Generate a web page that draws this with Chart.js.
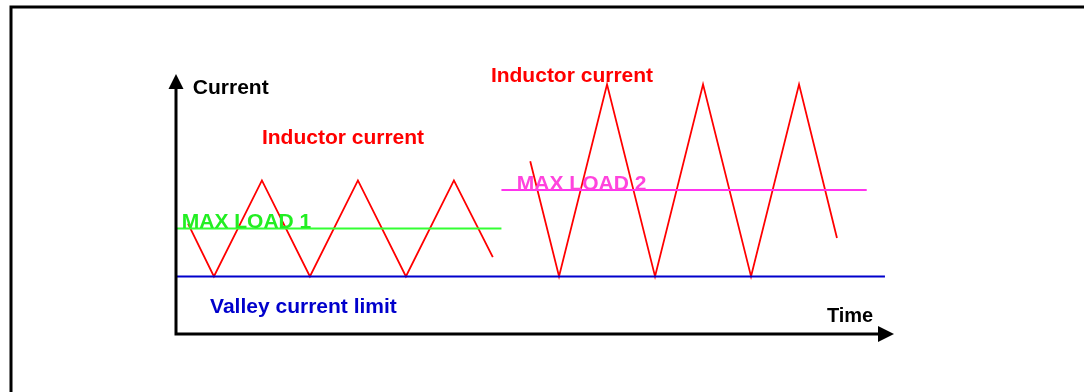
<!DOCTYPE html>
<html>
<head>
<meta charset="utf-8">
<script src="https://cdn.jsdelivr.net/npm/chart.js@4/dist/chart.umd.min.js"></script>
<style>
  html, body { margin: 0; padding: 0; background: #fff; }
  #wrap { width: 1084px; height: 392px; position: relative; }
</style>
</head>
<body>
<div id="wrap"><canvas id="valley"></canvas></div>
<script>
//! Data (time in half periods, current in arbitrary units)

const light_t = [0.25, 0.79, 1.79, 2.79, 3.79, 4.79, 5.79, 6.6];
const light_i = [2.3, 1.2, 3.2, 1.2, 3.2, 1.2, 3.2, 1.6];

const heavy_t = [7.38, 7.98, 8.98, 9.98, 10.98, 11.98, 12.98, 13.77];
const heavy_i = [3.6, 1.2, 5.2, 1.2, 5.2, 1.2, 5.2, 2.0];

const load1_t = [0, 6.78];
const load1_i = [2.2, 2.2];
const load2_t = [6.78, 14.39];
const load2_i = [3.0, 3.0];
const valley_t = [0, 14.77];
const valley_i = [1.2, 1.2];

const axisMax = { t: 15, i: 5.5 };

// text notes: [text, t, i, color, size]
const notes = [
  ["Current", 0.35, 5.01, "#000000", 21],
  ["Inductor current", 1.79, 3.96, "#ff0000", 21],
  ["Inductor current", 6.56, 5.26, "#ff0000", 21],
  ["MAX LOAD 1", 0.12, 2.21, "#22ee22", 21],
  ["MAX LOAD 2", 7.1, 3.01, "#ff44dd", 21],
  ["Valley current limit", 0.71, 0.43, "#0000cc", 21],
  ["Time", 13.56, 0.25, "#000000", 20],
];

const pts = (xs, ys) => xs.map((x, k) => ({ x: x, y: ys[k] }));

const lineSet = (xs, ys, color, width) => ({
  data: pts(xs, ys),
  showLine: true,
  borderColor: color,
  borderWidth: width,
  pointRadius: 0,
  tension: 0,
  fill: false,
});

//! Frame, axes with arrows and the text notes

const drawing = {
  id: "drawing",
  beforeDraw(chart) {
    const ctx = chart.ctx;
    ctx.save();
    ctx.fillStyle = "#fff";
    ctx.fillRect(0, 0, chart.width, chart.height);
    ctx.strokeStyle = "#000";
    ctx.lineWidth = 3;
    ctx.strokeRect(11, 7, chart.width + 20, chart.height + 20);
    ctx.restore();
  },
  afterDatasetsDraw(chart) {
    const ctx = chart.ctx;
    const xs = chart.scales.x;
    const ys = chart.scales.y;
    const x0 = xs.getPixelForValue(0);
    const y0 = ys.getPixelForValue(0);
    const xEnd = xs.getPixelForValue(axisMax.t) - 2;
    const yEnd = ys.getPixelForValue(axisMax.i) + 4;

    ctx.save();
    ctx.strokeStyle = "#000";
    ctx.fillStyle = "#000";
    ctx.lineWidth = 3;
    ctx.beginPath();
    ctx.moveTo(x0, y0 + 1.5);
    ctx.lineTo(x0, yEnd + 14);
    ctx.moveTo(x0 - 1.5, y0);
    ctx.lineTo(xEnd - 15, y0);
    ctx.stroke();

    ctx.beginPath();
    ctx.moveTo(x0, yEnd);
    ctx.lineTo(x0 - 7.5, yEnd + 15);
    ctx.lineTo(x0 + 7.5, yEnd + 15);
    ctx.closePath();
    ctx.fill();

    ctx.beginPath();
    ctx.moveTo(xEnd, y0);
    ctx.lineTo(xEnd - 16, y0 - 8);
    ctx.lineTo(xEnd - 16, y0 + 8);
    ctx.closePath();
    ctx.fill();

    ctx.textAlign = "left";
    ctx.textBaseline = "alphabetic";
    notes.forEach(([text, t, i, color, size]) => {
      ctx.font = "bold " + size + "px 'Liberation Sans', Arial, sans-serif";
      ctx.fillStyle = color;
      ctx.fillText(text, xs.getPixelForValue(t), ys.getPixelForValue(i));
    });
    ctx.restore();
  },
};

new Chart(document.getElementById("valley"), {
  type: "scatter",
  data: {
    datasets: [
      lineSet(valley_t, valley_i, "#0000cc", 2),
      lineSet(load1_t, load1_i, "#33ff33", 2),
      lineSet(load2_t, load2_i, "#ff33ee", 2),
      lineSet(light_t, light_i, "#ff0000", 1.8),
      lineSet(heavy_t, heavy_i, "#ff0000", 1.8),
    ],
  },
  options: {
    responsive: true,
    maintainAspectRatio: false,
    animation: false,
    events: [],
    layout: {
      padding: { left: 176, right: 188, top: 70, bottom: 58 },
    },
    scales: {
      x: { type: "linear", min: 0, max: axisMax.t, display: false },
      y: { type: "linear", min: 0, max: axisMax.i, display: false },
    },
    plugins: {
      legend: { display: false },
      tooltip: { enabled: false },
    },
  },
  plugins: [drawing],
});
</script>
</body>
</html>
